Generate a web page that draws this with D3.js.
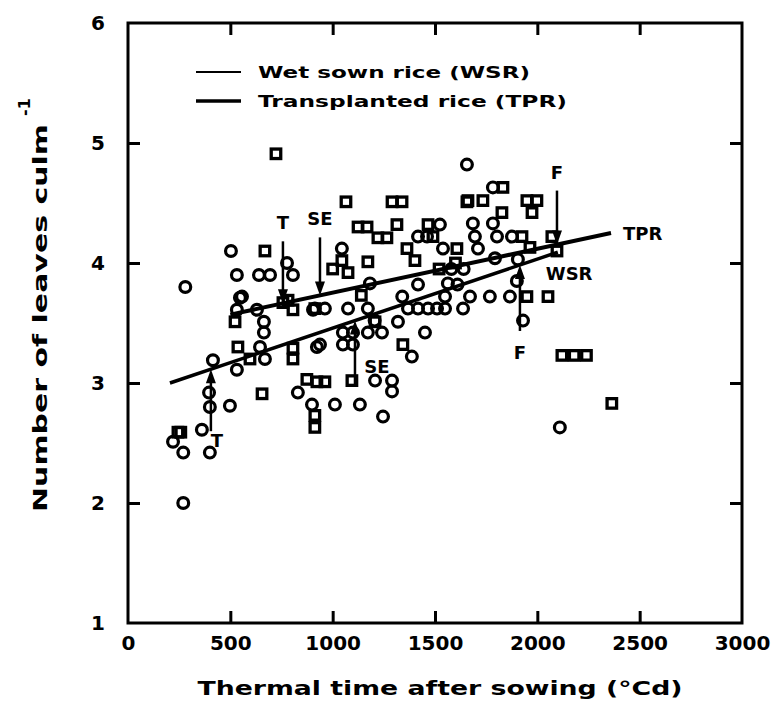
<!DOCTYPE html>
<html>
<head>
<meta charset="utf-8">
<script src="https://cdn.jsdelivr.net/npm/d3@7"></script>
<style>
  body { margin: 0; background: #fff; }
  text { font-family: "DejaVu Sans", "Liberation Sans", sans-serif; font-weight: bold; fill: #000; }
</style>
</head>
<body>
<svg id="chart" width="780" height="710"></svg>
<script>
// Axis ticks
const xTicks = [0, 500, 1000, 1500, 2000, 2500, 3000];
const yTicks = [1, 2, 3, 4, 5, 6];

// Wet sown rice observations (circles)
const wsrX = [220, 270, 270, 280, 361, 400, 400, 396, 415, 498, 532, 503, 532, 640, 694, 777, 806, 557, 547,
  532, 630, 664, 664, 645, 669, 904, 923, 830, 899, 962, 1075, 1172, 938, 1050, 1099, 1050, 1099, 1172, 1241,
  1319, 1368, 1417, 1466, 1510, 1549, 1549, 1637, 1671, 1768, 1866, 1930, 1451, 1387, 1207, 1290, 1290, 1011,
  1133, 1246, 2110, 1656, 1045, 1182, 1417, 1563, 1417, 1461, 1524, 1539, 1685, 1783, 1695, 1803, 1876, 1710,
  1793, 1905, 1783, 913, 1580, 1640, 1900, 1610, 1205, 1340];
const wsrY = [2.51, 2.0, 2.42, 3.8, 2.61, 2.42, 2.8, 2.92, 3.19, 2.81, 3.11, 4.1, 3.9, 3.9, 3.9, 4.0, 3.9, 3.72, 3.71,
  3.61, 3.61, 3.51, 3.42, 3.3, 3.2, 3.61, 3.3, 2.92, 2.82, 3.62, 3.62, 3.62, 3.32, 3.42, 3.42, 3.32, 3.32, 3.42, 3.42,
  3.51, 3.62, 3.62, 3.62, 3.62, 3.62, 3.72, 3.62, 3.72, 3.72, 3.72, 3.52, 3.42, 3.22, 3.02, 3.02, 2.93, 2.82,
  2.82, 2.72, 2.63, 4.82, 4.12, 3.83, 3.82, 3.83, 4.22, 4.22, 4.32, 4.12, 4.33, 4.33, 4.22, 4.22, 4.22, 4.12,
  4.04, 4.03, 4.63, 3.62, 3.95, 3.95, 3.85, 3.82, 3.52, 3.72];

// Transplanted rice observations (squares)
const tprX = [244, 258, 655, 723, 669, 523, 537, 596, 806, 806, 782, 806, 874, 913, 913, 923, 962, 1094, 1343,
  2120, 2180, 2240, 2364, 1949, 2052, 1065, 1290, 1339, 1656, 1124, 1168, 1314, 1221, 1265, 1466, 1490, 1363,
  1607, 1402, 1045, 1075, 1172, 1832, 1661, 1734, 1949, 1998, 1974, 1827, 1925, 1964, 2071, 2096, 757, 913,
  1207, 1520, 1600, 1000, 1140];
const tprY = [2.59, 2.59, 2.91, 4.91, 4.1, 3.51, 3.3, 3.2, 3.29, 3.2, 3.69, 3.61, 3.03, 2.73, 2.63, 3.01, 3.01, 3.02, 3.32,
  3.23, 3.23, 3.23, 2.83, 3.72, 3.72, 4.51, 4.51, 4.51, 4.51, 4.3, 4.3, 4.32, 4.21, 4.21, 4.32, 4.22, 4.12,
  4.12, 4.02, 4.02, 3.92, 4.01, 4.63, 4.52, 4.52, 4.52, 4.52, 4.42, 4.42, 4.22, 4.13, 4.22, 4.1, 3.67, 3.62,
  3.51, 3.95, 4.0, 3.95, 3.73];

// Fitted regression lines (end points)
const wsrFitX = [205, 2100], wsrFitY = [3.0, 4.09];
const tprFitX = [500, 2360], tprFitY = [3.57, 4.25];

// Phenological stages marked on each fitted line
const stageNames = ["T", "SE", "F"];
const wsrStageX = [405, 1109, 1915];
const tprStageX = [757, 938, 2096];

const svg = d3.select("#chart");
const x = d3.scaleLinear().domain([0, 3000]).range([128, 742]);
const y = d3.scaleLinear().domain([1, 6]).range([623, 23]);

const ink = "#000";
const tickLen = 12;

// Axes: ticks point inward on all four sides
const axBottom = svg.append("g").attr("transform", `translate(0,${y(1)})`)
  .call(d3.axisBottom(x).tickValues(xTicks).tickSizeInner(-tickLen).tickSizeOuter(0).tickPadding(13).tickFormat(d3.format("d")));
const axTop = svg.append("g").attr("transform", `translate(0,${y(6)})`)
  .call(d3.axisTop(x).tickValues(xTicks.slice(1, -1)).tickSizeInner(-tickLen).tickSizeOuter(0).tickFormat(""));
const axLeft = svg.append("g").attr("transform", `translate(${x(0)},0)`)
  .call(d3.axisLeft(y).tickValues(yTicks).tickSizeInner(-tickLen).tickSizeOuter(0).tickPadding(23).tickFormat(d3.format("d")));
const axRight = svg.append("g").attr("transform", `translate(${x(3000)},0)`)
  .call(d3.axisRight(y).tickValues(yTicks.slice(1, -1)).tickSizeInner(-tickLen).tickSizeOuter(0).tickFormat(""));

[axBottom, axTop, axLeft, axRight].forEach(g => {
  g.select(".domain").remove();
  g.selectAll(".tick line").attr("stroke", ink).attr("stroke-width", 3);
  g.selectAll(".tick text").style("font-size", "20px").style("font-family", "\"DejaVu Sans\", sans-serif").attr("fill", ink);
});
axLeft.selectAll(".tick line").filter(d => d === 1 || d === 6).remove();
axBottom.selectAll(".tick line").filter(d => d === 0 || d === 3000).remove();

// Frame
svg.append("rect")
  .attr("x", x(0)).attr("y", y(6))
  .attr("width", x(3000) - x(0)).attr("height", y(1) - y(6))
  .attr("fill", "none").attr("stroke", ink).attr("stroke-width", 3);

// Axis titles
svg.append("text")
  .attr("x", 440).attr("y", 695)
  .attr("text-anchor", "middle")
  .attr("textLength", 485).attr("lengthAdjust", "spacingAndGlyphs")
  .style("font-size", "20px")
  .text("Thermal time after sowing (°Cd)");

const yTitle = svg.append("text")
  .attr("transform", "translate(47,512) rotate(-90)")
  .style("font-size", "20px");
yTitle.append("tspan").attr("textLength", 388).attr("lengthAdjust", "spacingAndGlyphs").text("Number of leaves culm");
yTitle.append("tspan").attr("dy", -17).attr("dx", 8).style("font-size", "16px").text("-1");

// Legend
const legend = [
  { label: "Wet sown rice (WSR)", width: 2, y: 72, len: 272 },
  { label: "Transplanted rice (TPR)", width: 3.5, y: 101, len: 309 }
];
legend.forEach(d => {
  svg.append("line").attr("x1", 196).attr("x2", 241).attr("y1", d.y).attr("y2", d.y)
    .attr("stroke", ink).attr("stroke-width", d.width);
  svg.append("text").attr("x", 258).attr("y", d.y + 6)
    .attr("textLength", d.len).attr("lengthAdjust", "spacingAndGlyphs")
    .style("font-size", "16px").text(d.label);
});

// Observations
const plot = svg.append("g");
plot.selectAll("circle.wsr").data(d3.range(wsrX.length)).join("circle")
  .attr("class", "wsr")
  .attr("cx", i => x(wsrX[i])).attr("cy", i => y(wsrY[i]))
  .attr("r", 5.4)
  .attr("fill", "none").attr("stroke", ink).attr("stroke-width", 3.2);

const sq = 9.5;
plot.selectAll("rect.tpr").data(d3.range(tprX.length)).join("rect")
  .attr("class", "tpr")
  .attr("x", i => x(tprX[i]) - sq / 2).attr("y", i => y(tprY[i]) - sq / 2)
  .attr("width", sq).attr("height", sq)
  .attr("fill", "none").attr("stroke", ink).attr("stroke-width", 3.3);

// Regression lines
const fit = (fx, fy) => v => fy[0] + (fy[1] - fy[0]) * (v - fx[0]) / (fx[1] - fx[0]);
const wsrLine = fit(wsrFitX, wsrFitY);
const tprLine = fit(tprFitX, tprFitY);

svg.append("line")
  .attr("x1", x(wsrFitX[0])).attr("y1", y(wsrFitY[0]))
  .attr("x2", x(wsrFitX[1])).attr("y2", y(wsrFitY[1]))
  .attr("stroke", ink).attr("stroke-width", 3.5);
svg.append("line")
  .attr("x1", x(tprFitX[0])).attr("y1", y(tprFitY[0]))
  .attr("x2", x(tprFitX[1])).attr("y2", y(tprFitY[1]))
  .attr("stroke", ink).attr("stroke-width", 4);

svg.append("text").attr("x", x(tprFitX[1]) + 12).attr("y", y(tprFitY[1]) + 7)
  .style("font-size", "18px").text("TPR");
svg.append("text").attr("x", x(wsrFitX[1]) - 12).attr("y", y(wsrFitY[1]) + 28)
  .style("font-size", "18px").text("WSR");

// Stage arrows: transplanted rice arrows point down onto its line, wet sown rice arrows point up
function stageArrow(xv, lineFn, dir, name, len, ldx, ldy) {
  const px = x(xv), tip = y(lineFn(xv));
  const tail = tip - dir * len;
  svg.append("line").attr("x1", px).attr("x2", px).attr("y1", tail).attr("y2", tip - dir * 8)
    .attr("stroke", ink).attr("stroke-width", 2.5);
  svg.append("path")
    .attr("d", `M${px},${tip} L${px - 5},${tip - dir * 14} L${px + 5},${tip - dir * 14} Z`)
    .attr("fill", ink);
  svg.append("text").attr("x", px + ldx).attr("y", tail + ldy)
    .attr("text-anchor", "middle").style("font-size", "18px").text(name);
}
const tprLens = [62, 58, 54];
const wsrLens = [62, 64, 66];
const tprLabelDx = [0, 0, 0], tprLabelDy = [-12, -12, -12];
const wsrLabelDx = [6, 22, 0], wsrLabelDy = [16, -12, 28];
stageNames.forEach((n, i) => stageArrow(tprStageX[i], tprLine, 1, n, tprLens[i], tprLabelDx[i], tprLabelDy[i]));
stageNames.forEach((n, i) => stageArrow(wsrStageX[i], wsrLine, -1, n, wsrLens[i], wsrLabelDx[i], wsrLabelDy[i]));
</script>
</body>
</html>
